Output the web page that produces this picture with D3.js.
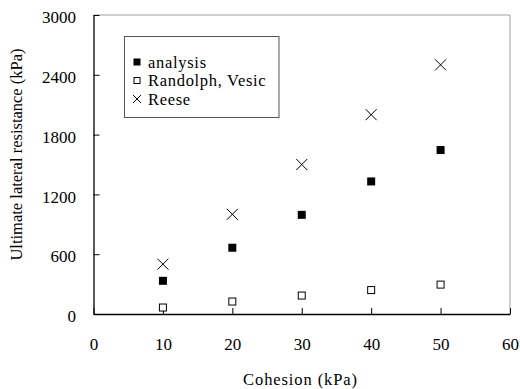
<!DOCTYPE html>
<html>
<head>
<meta charset="utf-8">
<script src="https://d3js.org/d3.v7.min.js"></script>
<style>
  body { margin: 0; background: #fff; }
  svg text { font-family: "Liberation Serif", Tinos, "Times New Roman", Times, "DejaVu Serif", serif; fill: #000; }
</style>
</head>
<body>
<div id="chart"></div>
<script>
const cohesion = [10, 20, 30, 40, 50];
const analysis = [333, 665, 995, 1330, 1645];
const randolphVesic = [65, 125, 185, 240, 295];
const reese = [500, 1000, 1500, 2000, 2500];
const xTicks = [0, 10, 20, 30, 40, 50, 60];
const yTicks = [0, 600, 1200, 1800, 2400, 3000];
const legendLabels = ["analysis", "Randolph, Vesic", "Reese"];

const width = 520, height = 389;
const margin = { left: 93.5, right: 10, top: 15, bottom: 75 };
const serif = '"Liberation Serif", Tinos, "Times New Roman", Times, "DejaVu Serif", serif';

const svg = d3.select("#chart").append("svg")
  .attr("width", width)
  .attr("height", height);

const x = d3.scaleLinear().domain([0, 60]).range([margin.left, width - margin.right]);
const y = d3.scaleLinear().domain([0, 3000]).range([height - margin.bottom, margin.top]);

// grey frame on top and right
svg.append("path")
  .attr("d", `M${x(0)},${y(3000)}H${x(60)}V${y(0)}`)
  .attr("fill", "none")
  .attr("stroke", "#a0a0a0")
  .attr("stroke-width", 1);

// axes with inner ticks
const xAxis = svg.append("g")
  .attr("transform", `translate(0,${y(0)})`)
  .call(d3.axisBottom(x).tickValues(xTicks).tickFormat(d3.format("d"))
    .tickSizeInner(-6).tickSizeOuter(0).tickPadding(24));
const yAxis = svg.append("g")
  .attr("transform", `translate(${x(0)},0)`)
  .call(d3.axisLeft(y).tickValues(yTicks).tickFormat(d3.format("d"))
    .tickSizeInner(-6).tickSizeOuter(0).tickPadding(17.5));

[xAxis, yAxis].forEach(g => {
  g.attr("font-family", serif).attr("font-size", 17);
  g.select(".domain").attr("stroke", "#000").attr("stroke-width", 1.3);
  g.selectAll(".tick line").attr("stroke", "#000");
  g.selectAll(".tick text").attr("fill", "#000");
});
yAxis.selectAll(".tick text").attr("dy", "0.45em");

// axis titles
svg.append("text")
  .attr("x", 300.5)
  .attr("y", 384.5)
  .attr("text-anchor", "middle")
  .attr("font-family", serif)
  .attr("font-size", 16.5)
  .attr("letter-spacing", 0.9)
  .text("Cohesion (kPa)");

svg.append("text")
  .attr("transform", "translate(21.5,154.5) rotate(-90)")
  .attr("text-anchor", "middle")
  .attr("font-family", serif)
  .attr("font-size", 16.5)
  .text("Ultimate lateral resistance (kPa)");

// markers
const sq = 8;
const marks = svg.append("g");

marks.selectAll("rect.analysis")
  .data(cohesion.map((c, i) => [c, analysis[i]]))
  .join("rect")
  .attr("x", d => x(d[0]) - sq / 2)
  .attr("y", d => y(d[1]) - sq / 2)
  .attr("width", sq).attr("height", sq)
  .attr("fill", "#000");

marks.selectAll("rect.rv")
  .data(cohesion.map((c, i) => [c, randolphVesic[i]]))
  .join("rect")
  .attr("x", d => x(d[0]) - sq / 2 + 0.5)
  .attr("y", d => y(d[1]) - sq / 2 + 0.5)
  .attr("width", sq - 1).attr("height", sq - 1)
  .attr("fill", "#fff")
  .attr("stroke", "#000")
  .attr("stroke-width", 1);

const cross = 5.5;
marks.selectAll("path.reese")
  .data(cohesion.map((c, i) => [c, reese[i]]))
  .join("path")
  .attr("d", d => {
    const cx = x(d[0]), cy = y(d[1]);
    return `M${cx - cross},${cy - cross}L${cx + cross},${cy + cross}M${cx - cross},${cy + cross}L${cx + cross},${cy - cross}`;
  })
  .attr("stroke", "#000")
  .attr("stroke-width", 1)
  .attr("fill", "none");

// legend
const legend = svg.append("g");
legend.append("rect")
  .attr("x", 124.5).attr("y", 36.5)
  .attr("width", 154.5).attr("height", 81)
  .attr("fill", "#fff")
  .attr("stroke", "#555")
  .attr("stroke-width", 1);

const rowY = [62, 80.5, 99];
const lx = 137;
legend.append("rect")
  .attr("x", lx - 3.5).attr("y", rowY[0] - 3.5)
  .attr("width", 7).attr("height", 7).attr("fill", "#000");
legend.append("rect")
  .attr("x", lx - 3).attr("y", rowY[1] - 3)
  .attr("width", 6).attr("height", 6)
  .attr("fill", "#fff").attr("stroke", "#000");
legend.append("path")
  .attr("d", `M${lx - 4},${rowY[2] - 4}L${lx + 4},${rowY[2] + 4}M${lx - 4},${rowY[2] + 4}L${lx + 4},${rowY[2] - 4}`)
  .attr("stroke", "#000").attr("fill", "none");

legend.selectAll("text.lab")
  .data(legendLabels)
  .join("text")
  .attr("x", 148)
  .attr("y", (d, i) => rowY[i])
  .attr("dy", "0.35em")
  .attr("font-family", serif)
  .attr("font-size", 16.5)
  .attr("letter-spacing", 0.7)
  .text(d => d);
</script>
</body>
</html>
